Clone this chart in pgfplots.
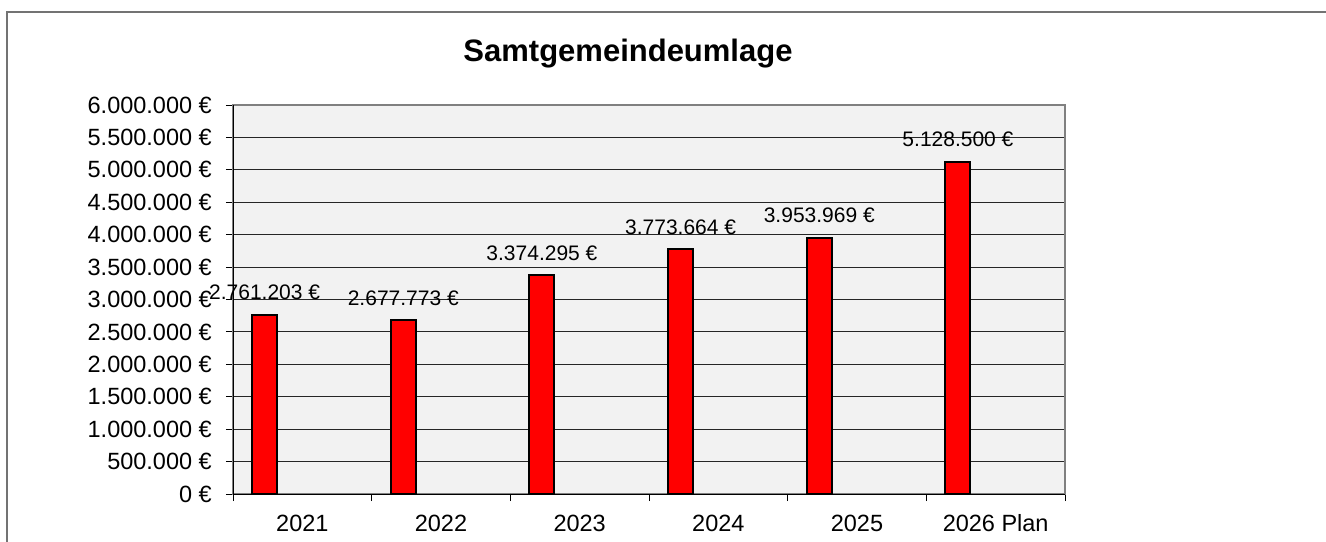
\documentclass[border=0pt]{standalone}
\usepackage{fontspec}
\setmainfont{Liberation Sans}
\usepackage{pgfplots}
\pgfplotsset{compat=1.18}
\begin{document}
\begin{tikzpicture}
\useasboundingbox (0bp,0bp) rectangle (1326bp,-542bp);
\draw[color=black!55, line width=1.5bp] (7bp,-542bp) -- (7bp,-12bp) -- (1326bp,-12bp);
\node[font=\fontsize{31bp}{36bp}\selectfont\bfseries] at (628bp,-54bp) {Samtgemeindeumlage};
\begin{axis}[
  at={(233bp,-494bp)}, anchor=south west,
  width=832bp, height=389bp, scale only axis,
  xmin=-0.5, xmax=5.5, ymin=0, ymax=6000000,
  enlargelimits=false, clip=false,
  axis background/.style={fill=black!5},
  axis line style={draw=black!50, line width=1.5bp},
  ymajorgrids, grid style={black!85, line width=1bp},
  scaled y ticks=false,
  tick align=outside, major tick length=7bp, minor tick length=7bp,
  xtick pos=left, ytick pos=left,
  tick style={black, line width=1bp},
  major x tick style={draw=none},
  xtick={0,1,2,3,4,5},
  xticklabels={2021,2022,2023,2024,2025,2026 Plan},
  minor xtick={-0.5,0.5,1.5,2.5,3.5,4.5,5.5},
  ytick={0,500000,1000000,1500000,2000000,2500000,3000000,3500000,4000000,4500000,5000000,5500000,6000000},
  yticklabels={0 €,500.000 €,1.000.000 €,1.500.000 €,2.000.000 €,2.500.000 €,3.000.000 €,3.500.000 €,4.000.000 €,4.500.000 €,5.000.000 €,5.500.000 €,6.000.000 €},
  yticklabel style={font=\fontsize{23.5bp}{28bp}\selectfont, anchor=east, inner sep=0pt, xshift=-14bp},
  xticklabel style={font=\fontsize{23.5bp}{28bp}\selectfont, anchor=base, inner sep=0pt, yshift=-30bp},
  nodes near coords, point meta=explicit symbolic,
  nodes near coords style={font=\fontsize{21bp}{25bp}\selectfont, anchor=south, inner sep=0pt, yshift=14bp},
]
\addplot[ybar, bar width=25bp, bar shift=0pt, fill=red, draw=black, line width=2bp]
coordinates {
(-0.272,2761203) [2.761.203 €]
(0.728,2677773) [2.677.773 €]
(1.728,3374295) [3.374.295 €]
(2.728,3773664) [3.773.664 €]
(3.728,3953969) [3.953.969 €]
(4.728,5128500) [5.128.500 €]
};
\draw[black, line width=1bp] (rel axis cs:0,1) -- (rel axis cs:0,0) -- (rel axis cs:1,0);
\end{axis}
\end{tikzpicture}
\end{document}
